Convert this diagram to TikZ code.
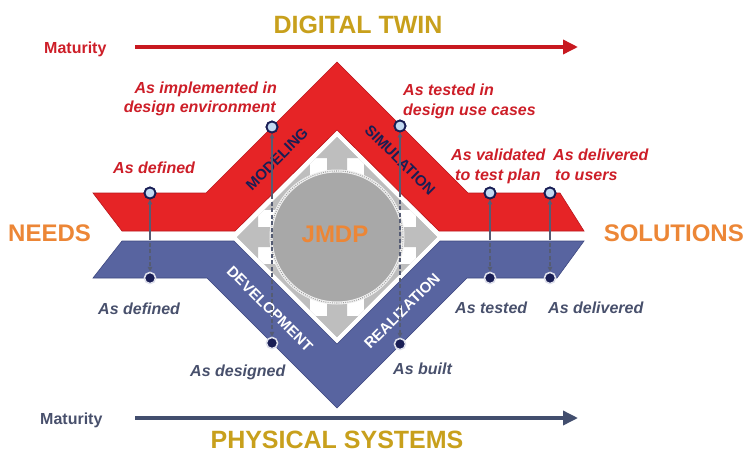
\documentclass[tikz,border=0pt]{standalone}
\usepackage{fontspec}
\setmainfont{Liberation Sans}
\usetikzlibrary{arrows.meta}

\definecolor{bandred}{RGB}{230,36,38}
\definecolor{bandredline}{RGB}{185,22,28}
\definecolor{bandblue}{RGB}{88,100,160}
\definecolor{bandblueline}{RGB}{62,72,128}
\definecolor{gold}{RGB}{200,160,28}
\definecolor{redtext}{RGB}{205,30,40}
\definecolor{slatetext}{RGB}{72,80,108}
\definecolor{navy}{RGB}{25,30,85}
\definecolor{orangetxt}{RGB}{236,134,54}
\definecolor{diamondgray}{RGB}{190,190,190}
\definecolor{hubgray}{RGB}{168,168,168}
\definecolor{linkgray}{RGB}{85,92,115}
\definecolor{pinfill}{RGB}{195,218,242}
\definecolor{arrowred}{RGB}{200,25,32}
\definecolor{arrowslate}{RGB}{66,78,110}

\tikzset{
  title/.style={font=\fontsize{25}{28}\selectfont\bfseries, text=gold, inner sep=0, anchor=base},
  side/.style={font=\fontsize{24}{28}\selectfont\bfseries, text=orangetxt, inner sep=0},
  redlbl/.style={font=\fontsize{16}{20}\selectfont\bfseries\itshape, text=redtext, inner sep=0, anchor=base west},
  bluelbl/.style={font=\fontsize{16}{20}\selectfont\bfseries\itshape, text=slatetext, inner sep=0, anchor=base west},
  maturitylbl/.style={font=\fontsize{16}{20}\selectfont\bfseries, inner sep=0, anchor=base west},
  phase/.style={font=\fontsize{15}{17}\selectfont\bfseries, inner sep=0},
  pin/.style={circle, draw=navy, fill=pinfill, line width=1.8pt, minimum size=11pt, inner sep=0},
  dot/.style={circle, draw=white!80!bandblue, fill=navy, line width=1.4pt, minimum size=11pt, inner sep=0},
  solidlink/.style={draw=linkgray, line width=1.1pt, -{Triangle[length=5pt,width=4.5pt]}},
  dashlink/.style={draw=linkgray, line width=1.1pt, dash pattern=on 4pt off 2.5pt, -{Triangle[length=5pt,width=4.5pt]}},
  maturity/.style={line width=3.5pt, -{Triangle[length=15pt,width=14pt]}},
}

\begin{document}
\begin{tikzpicture}[x=1pt, y=-1pt]
\useasboundingbox (0,0) rectangle (747,453);

% ---- titles and maturity arrows
\node[title] (dt) at (358,33) {DIGITAL TWIN};
\node[title] (ps) at (337,448) {PHYSICAL SYSTEMS};
\node[maturitylbl, text=redtext] (mtop) at (44,53) {Maturity};
\node[maturitylbl, text=slatetext] (mbot) at (40,424) {Maturity};
\coordinate (mta) at (135,47);
\coordinate (mtb) at (578,47);
\coordinate (mba) at (135,418);
\coordinate (mbb) at (578,418);
\draw[maturity, arrowred] (mta) -- (mtb);
\draw[maturity, arrowslate] (mba) -- (mbb);

% ---- digital twin band (red)
\fill[bandred, draw=bandredline, line width=0.6pt]
  (93,193) -- (206,193) -- (337,62) -- (468,193) -- (560,193) -- (584,231)
  -- (439,231) -- (337,130) -- (235,231) -- (122,231) -- cycle;

% ---- physical systems band (blue)
\fill[bandblue, draw=bandblueline, line width=0.6pt]
  (122,241) -- (234,241) -- (337,344) -- (440,241) -- (584,241) -- (557,278)
  -- (467,278) -- (337,408) -- (207,278) -- (93,278) -- cycle;

% ---- central diamond with four outward arrows
\begin{scope}
  \clip (237,237) -- (337,137) -- (437,237) -- (337,337) -- cycle;
  \fill[diamondgray] (237,237) -- (337,137) -- (437,237) -- (337,337) -- cycle;
  \fill[white] (310,158) rectangle (364,316);
  \fill[white] (258,210) rectangle (416,264);
  % up
  \fill[diamondgray] (337,137) -- (358,158) -- (347,158) -- (347,237)
    -- (327,237) -- (327,158) -- (316,158) -- cycle;
  % down
  \fill[diamondgray] (337,337) -- (358,316) -- (347,316) -- (347,237)
    -- (327,237) -- (327,316) -- (316,316) -- cycle;
  % left
  \fill[diamondgray] (237,237) -- (258,216) -- (258,227) -- (337,227)
    -- (337,247) -- (258,247) -- (258,258) -- cycle;
  % right
  \fill[diamondgray] (437,237) -- (416,216) -- (416,227) -- (337,227)
    -- (337,247) -- (416,247) -- (416,258) -- cycle;
\end{scope}

% hub with beaded rim
\node[circle, fill=hubgray, minimum size=132pt, inner sep=0] (hub) at (337,237) {};
\draw[white!88!gray, line width=3pt] (hub.center) circle[radius=66];
\draw[gray!75, line width=1.1pt, dash pattern=on 0.8pt off 1.4pt] (hub.center) circle[radius=66];
\node[side, text=orangetxt, anchor=base] (jmdp) at (335,242) {JMDP};

% ---- phase labels on the bands
\node[phase, text=navy, rotate=45] (modeling) at (277,159) {MODELING};
\node[phase, text=navy, rotate=-45] (simulation) at (400,160) {SIMULATION};
\node[phase, text=white, rotate=-45] (development) at (270,309) {DEVELOPMENT};
\node[phase, text=white, rotate=45] (realization) at (402,311) {REALIZATION};

% ---- side labels
\node[side, anchor=base west] (needs) at (8,241) {NEEDS};
\node[side, anchor=base east] (solutions) at (744,241) {SOLUTIONS};

% ---- twin / physical correspondence links
\node[pin] (r1) at (150,193) {};
\node[pin] (r2) at (272,127) {};
\node[pin] (r3) at (400,126) {};
\node[pin] (r4) at (490,193) {};
\node[pin] (r5) at (550,193) {};
\node[dot] (b1) at (150,278) {};
\node[dot] (b2) at (272,343) {};
\node[dot] (b3) at (400,344) {};
\node[dot] (b4) at (490,278) {};
\node[dot] (b5) at (550,278) {};
\coordinate (m1) at (150,236);
\coordinate (m2) at (272,195);
\coordinate (m3) at (400,193);
\coordinate (m4) at (490,236);
\coordinate (m5) at (550,236);
\foreach \i in {1,...,5}{
  \draw[solidlink] (m\i) -- (r\i);
  \draw[dashlink] (m\i) -- (b\i);
}
% redraw markers above the links
\foreach \i/\x/\y in {1/150/193, 2/272/127, 3/400/126, 4/490/193, 5/550/193}{
  \node[pin] at (\x,\y) {};
}
\foreach \i/\x/\y in {1/150/278, 2/272/343, 3/400/344, 4/490/278, 5/550/278}{
  \node[dot] at (\x,\y) {};
}

% ---- digital twin states
\node[redlbl, anchor=base east] (impl1) at (277,93) {As implemented in};
\node[redlbl, anchor=base east] (impl2) at (276,112) {design environment};
\node[redlbl] (tdef) at (113,173) {As defined};
\node[redlbl] (test1) at (403,95) {As tested in};
\node[redlbl] (test2) at (403,115) {design use cases};
\node[redlbl] (val1) at (451,160) {As validated};
\node[redlbl] (val2) at (455,180) {to test plan};
\node[redlbl] (del1) at (553,160) {As delivered};
\node[redlbl] (del2) at (555,180) {to users};

% ---- physical system states
\node[bluelbl] (pdef) at (98,314) {As defined};
\node[bluelbl] (pdes) at (190,376) {As designed};
\node[bluelbl] (pbuilt) at (393,374) {As built};
\node[bluelbl] (ptest) at (455,313) {As tested};
\node[bluelbl] (pdel) at (548,313) {As delivered};
\end{tikzpicture}
\end{document}
